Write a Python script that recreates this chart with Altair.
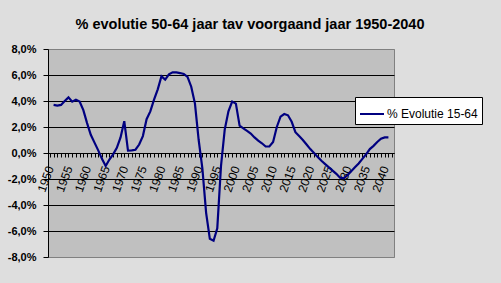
import altair as alt
import pandas as pd

years = list(range(1951, 2042))
values = [
    3.7, 3.65, 3.7, 4.0, 4.28, 3.95, 4.1, 3.95, 3.3, 2.3,
    1.4, 0.8, 0.2, -0.45, -1.0, -0.5, -0.1, 0.4, 1.2, 2.45,
    0.18, 0.2, 0.25, 0.65, 1.3, 2.6, 3.2, 4.1, 4.9, 5.9,
    5.65, 6.05, 6.2, 6.2, 6.15, 6.08, 5.85, 5.1, 3.8, 1.0,
    -1.2, -4.6, -6.6, -6.75, -5.8, -1.0, 1.8, 3.2, 3.95, 3.8,
    2.1, 1.9, 1.7, 1.5, 1.2, 0.95, 0.75, 0.5, 0.5, 0.85,
    2.0, 2.8, 3.0, 2.9, 2.4, 1.6, 1.3, 1.0, 0.65, 0.3,
    0.0, -0.3, -0.6, -0.85, -1.1, -1.35, -1.6, -1.9, -1.95, -1.7,
    -1.4, -1.1, -0.8, -0.45, -0.1, 0.3, 0.55, 0.85, 1.1, 1.2,
    1.2,
]
series_name = "% Evolutie 15-64"
x_tick_values = list(range(1950, 2043))
y_tick_values = [-8, -6, -4, -2, 0, 2, 4, 6, 8]

df = pd.DataFrame({"jaar": years, "waarde": values, "reeks": [series_name] * len(years)})

FONT = "Liberation Sans"

x_axis = alt.Axis(
    title=None,
    values=x_tick_values,
    labelExpr="datum.value % 5 == 0 && datum.value <= 2040 ? datum.value : ''",
    labelAngle=-70,
    labelFont=FONT,
    labelFontSize=12,
    labelColor="black",
    labelPadding=9,
    labelOverlap=False,
    labelFlush=False,
    tickSize=4,
    tickColor="black",
    domainColor="black",
    grid=False,
    offset=-104,
)

y_axis = alt.Axis(
    title=None,
    values=y_tick_values,
    labelExpr="(datum.value < 0 ? '-' : '') + replace(format(abs(datum.value), '.1f'), '.', ',') + '%'",
    labelFont=FONT,
    labelFontSize=11,
    labelFontWeight="bold",
    labelColor="black",
    labelPadding=7,
    tickSize=5,
    tickColor="black",
    domainColor="black",
    grid=True,
    gridColor={"condition": {"test": "abs(datum.value) > 7", "value": "#808080"}, "value": "black"},
    gridOpacity=1,
)

chart = alt.Chart(df).mark_line(strokeWidth=2.2).encode(
    x=alt.X("jaar:Q", scale=alt.Scale(domain=[1949.5, 2042.5], nice=False, zero=False), axis=x_axis),
    y=alt.Y("waarde:Q", scale=alt.Scale(domain=[-8, 8], nice=False), axis=y_axis),
    color=alt.Color(
        "reeks:N",
        scale=alt.Scale(domain=[series_name], range=["#000080"]),
        legend=alt.Legend(
            title=None,
            orient="none",
            legendX=307,
            legendY=48,
            fillColor="white",
            strokeColor="black",
            padding=4,
            symbolType="stroke",
            symbolSize=576,
            symbolStrokeWidth=2,
            labelFont=FONT,
            labelFontSize=12,
            labelColor="black",
            labelOffset=2,
        ),
    ),
).properties(
    width=346,
    height=208,
    autosize=alt.AutoSizeParams(type="none"),
    padding={"left": 48, "top": 49, "right": 107, "bottom": 26},
    background="#dedede",
    title=alt.TitleParams(
        text="% evolutie 50-64 jaar tav voorgaand jaar 1950-2040",
        font=FONT,
        fontSize=14.5,
        fontWeight="bold",
        color="black",
        anchor="middle",
        frame="group",
        dx=29,
        baseline="alphabetic",
        offset=0,
    ),
).configure_view(
    fill="#c0c0c0",
    stroke="#808080",
    strokeWidth=1,
)

chart.save("out.html", embed_options={"renderer": "svg", "actions": False})
